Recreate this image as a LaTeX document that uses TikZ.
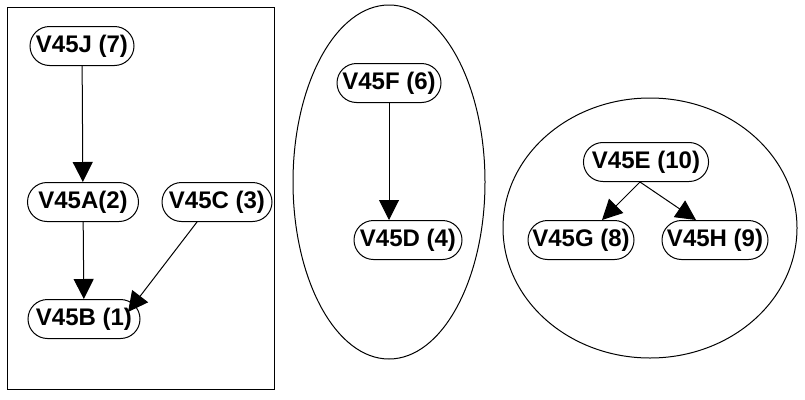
\documentclass[tikz,border=0pt]{standalone}
\usepackage{fontspec}
\setmainfont{Liberation Sans}
\usetikzlibrary{shapes.misc,arrows.meta}
\begin{document}
\begin{tikzpicture}[x=1pt,y=-1pt,line width=1pt,
  vtx/.style={rounded rectangle, draw, minimum height=39pt, minimum width=114pt,
    inner xsep=5pt, font=\fontsize{24}{26}\selectfont\bfseries},
  dep/.style={-{Triangle[length=20pt,width=20pt]}}]
\useasboundingbox (0,0) rectangle (805,399);
% left group
\draw (7,7) rectangle (274,389);
\node[vtx] (v45j) at (82,46){V45J (7)};
\node[vtx, minimum width=121pt] (v45a) at (83,202){V45A(2)};
\node[vtx, minimum width=120pt] (v45c) at (217,202){V45C (3)};
\node[vtx, minimum width=122pt] (v45b) at (84,319){V45B (1)};
\draw[dep](v45j) -- (v45a);
\draw[dep](v45a) -- (v45b);
\draw[dep]([xshift=-20pt]v45c.south) -- ([xshift=44pt,yshift=7pt]v45b.center);
% middle group
\draw (389,182) ellipse (96 and 177);
\node[vtx] (v45f) at (389,83){V45F (6)};
\node[vtx, minimum width=118pt] (v45d) at (408,240){V45D (4)};
\draw[dep](v45f.south) -- (v45f.south |- v45d.north);
% right group
\draw (650,228) ellipse (147 and 130);
\node[vtx] (v45e) at (646,162){V45E (10)};
\node[vtx, minimum width=116pt] (v45g) at (581,240){V45G (8)};
\node[vtx, minimum width=116pt] (v45h) at (715,240){V45H (9)};
\draw[dep]([xshift=-6pt]v45e.south) -- ([xshift=21pt]v45g.north);
\draw[dep]([xshift=-6pt]v45e.south) -- ([xshift=-19pt]v45h.north);
\end{tikzpicture}
\end{document}
